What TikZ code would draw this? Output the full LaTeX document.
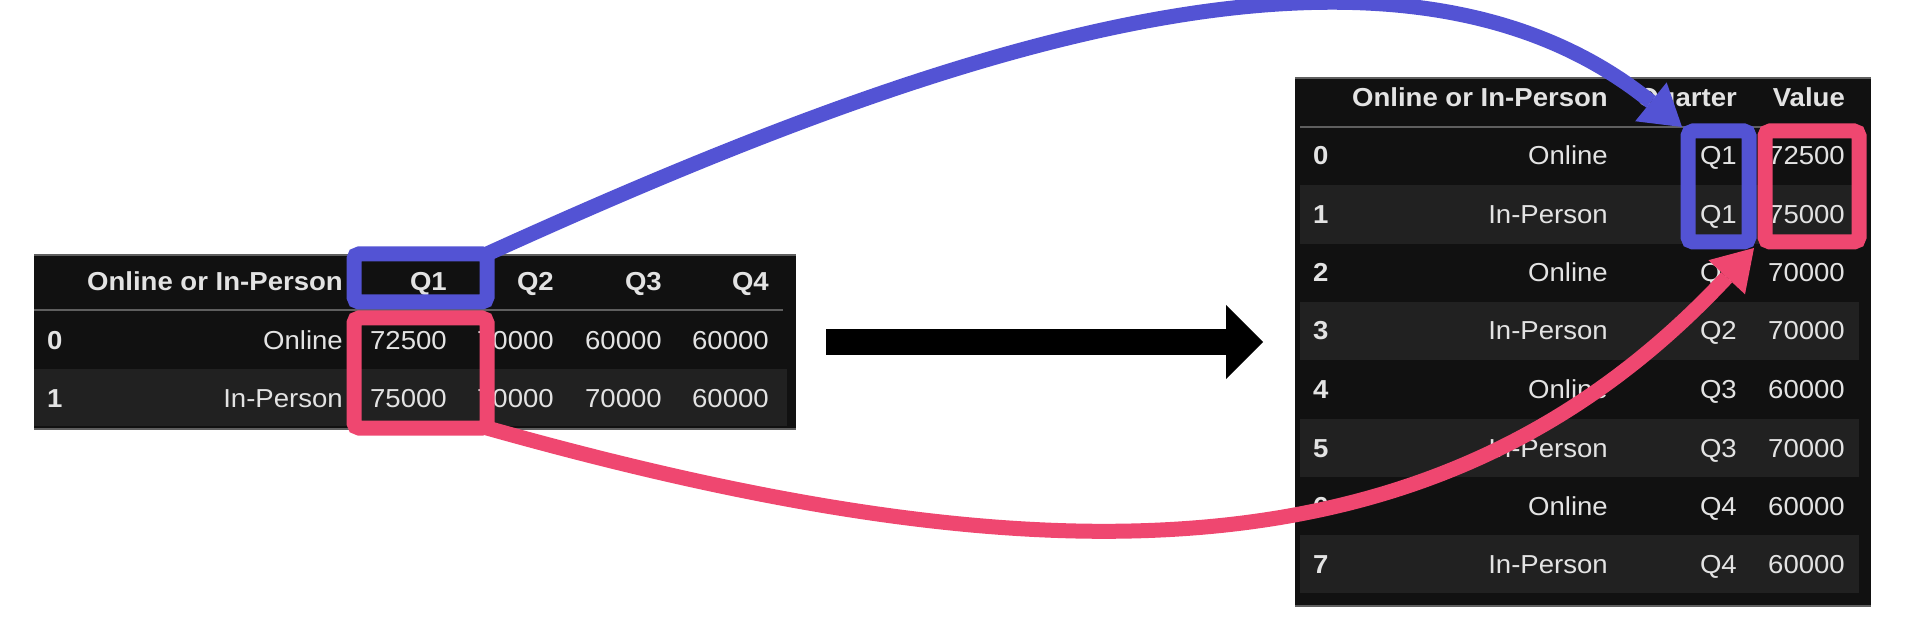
\documentclass[tikz,border=0pt]{standalone}
\usepackage{fontspec}
\setmainfont{Liberation Sans}[FakeStretch=1.06]
\usetikzlibrary{arrows.meta}
\definecolor{tabbg}{HTML}{111111}
\definecolor{tabstripe}{HTML}{212121}
\definecolor{tabrule}{HTML}{5F5F5F}
\definecolor{celltxt}{HTML}{E3E3E3}
\definecolor{qblue}{HTML}{5353D4}
\definecolor{vpink}{HTML}{EF4770}
\newcommand{\cellfont}{\fontsize{26}{30}\selectfont}
\newcommand{\fatarw}{-{Triangle[length=37pt,width=74pt,line width=0pt]}}
\newcommand{\curvarw}{-{Triangle[length=40pt,width=50pt,line width=0pt]}}

\begin{document}
\begin{tikzpicture}[x=1pt,y=-1pt,
  frame/.style={fill=tabbg, inner sep=0pt, outer sep=0pt},
  cell/.style={anchor=base east, inner sep=0pt, text=celltxt, font=\cellfont},
  head/.style={cell, font=\cellfont\bfseries},
  idx/.style={head, anchor=base west},
  pick/.style={draw=#1, line width=15pt, rounded corners=5pt, inner sep=0pt, outer sep=0pt}]
\useasboundingbox (0,0) rectangle (1920,620);
%wide table
\node[frame, minimum width=762pt, minimum height=174pt] (ltab) at (415,342) {};
\draw[tabrule, line width=1.5pt] (ltab.north west) -- (ltab.north east);
\draw[tabrule, line width=1.5pt] (ltab.south west) -- (ltab.south east);
\fill[tabstripe] (34,369) rectangle (787,426);
\draw[tabrule, line width=2pt] (34,310.5) -- (783,310.5);
\node[head] (lh1) at (343,291) {Online or In-Person};
\node[head] (lh2) at (447,291) {Q1};
\node[head] (lh3) at (554,291) {Q2};
\node[head] (lh4) at (662,291) {Q3};
\node[head] (lh5) at (769,291) {Q4};
\node[idx] (li0) at (47,349) {0};
\node[cell] (lc0) at (343,349) {Online};
\node[cell] (lq10) at (447,349) {72500};
\node[cell] (lq20) at (554,349) {70000};
\node[cell] (lq30) at (662,349) {60000};
\node[cell] (lq40) at (769,349) {60000};
\node[idx] (li1) at (47,407) {1};
\node[cell] (lc1) at (343,407) {In-Person};
\node[cell] (lq11) at (447,407) {75000};
\node[cell] (lq21) at (554,407) {70000};
\node[cell] (lq31) at (662,407) {70000};
\node[cell] (lq41) at (769,407) {60000};
%long table
\node[frame, minimum width=576pt, minimum height=528pt] (rtab) at (1583,342) {};
\draw[tabrule, line width=1.5pt] (rtab.north west) -- (rtab.north east);
\draw[tabrule, line width=1.5pt] (rtab.south west) -- (rtab.south east);
\fill[tabstripe] (1300,185.3) rectangle (1859,243.6);
\fill[tabstripe] (1300,301.9) rectangle (1859,360.2);
\fill[tabstripe] (1300,418.5) rectangle (1859,476.8);
\fill[tabstripe] (1300,535.1) rectangle (1859,593.4);
\draw[tabrule, line width=2pt] (1300,127) -- (1860,127);
\node[head] (rh1) at (1608,107) {Online or In-Person};
\node[head] (rh2) at (1737,107) {Quarter};
\node[head] (rh3) at (1845,107) {Value};
\node[idx] (ri0) at (1313,165) {0};
\node[cell] (rc0) at (1608,165) {Online};
\node[cell] (rq0) at (1737,165) {Q1};
\node[cell] (rv0) at (1845,165) {72500};
\node[idx] (ri1) at (1313,223.5) {1};
\node[cell] (rc1) at (1608,223.5) {In-Person};
\node[cell] (rq1) at (1737,223.5) {Q1};
\node[cell] (rv1) at (1845,223.5) {75000};
\node[idx] (ri2) at (1313,282) {2};
\node[cell] (rc2) at (1608,282) {Online};
\node[cell] (rq2) at (1737,282) {Q2};
\node[cell] (rv2) at (1845,282) {70000};
\node[idx] (ri3) at (1313,340) {3};
\node[cell] (rc3) at (1608,340) {In-Person};
\node[cell] (rq3) at (1737,340) {Q2};
\node[cell] (rv3) at (1845,340) {70000};
\node[idx] (ri4) at (1313,398.5) {4};
\node[cell] (rc4) at (1608,398.5) {Online};
\node[cell] (rq4) at (1737,398.5) {Q3};
\node[cell] (rv4) at (1845,398.5) {60000};
\node[idx] (ri5) at (1313,457) {5};
\node[cell] (rc5) at (1608,457) {In-Person};
\node[cell] (rq5) at (1737,457) {Q3};
\node[cell] (rv5) at (1845,457) {70000};
\node[idx] (ri6) at (1313,515) {6};
\node[cell] (rc6) at (1608,515) {Online};
\node[cell] (rq6) at (1737,515) {Q4};
\node[cell] (rv6) at (1845,515) {60000};
\node[idx] (ri7) at (1313,573.5) {7};
\node[cell] (rc7) at (1608,573.5) {In-Person};
\node[cell] (rq7) at (1737,573.5) {Q4};
\node[cell] (rv7) at (1845,573.5) {60000};
%highlights
\node[pick=qblue, minimum width=133pt, minimum height=48pt] (qsel) at (420.5,278) {};
\node[pick=vpink, minimum width=133pt, minimum height=110pt] (vsel) at (420.5,373) {};
\node[pick=qblue, minimum width=61pt, minimum height=111pt] (qcol) at (1718.5,186.5) {};
\node[pick=vpink, minimum width=94pt, minimum height=111pt] (vcol) at (1812,186.5) {};
%arrows
\draw[line width=26pt, \fatarw, shorten <=30pt, shorten >=32pt] (ltab.east) -- (ltab.east -| rtab.west);
\draw[qblue, line width=15pt, \curvarw] (qsel.north east) .. controls +(436,-198) and +(-295,-239) .. ([shift={(-6,-4)}]qcol.north west);
\draw[vpink, line width=15pt, \curvarw] (vsel.south east) .. controls +(576,162) and +(-307,329) .. ([shift={(-11,6)}]vcol.south west);
\end{tikzpicture}
\end{document}
